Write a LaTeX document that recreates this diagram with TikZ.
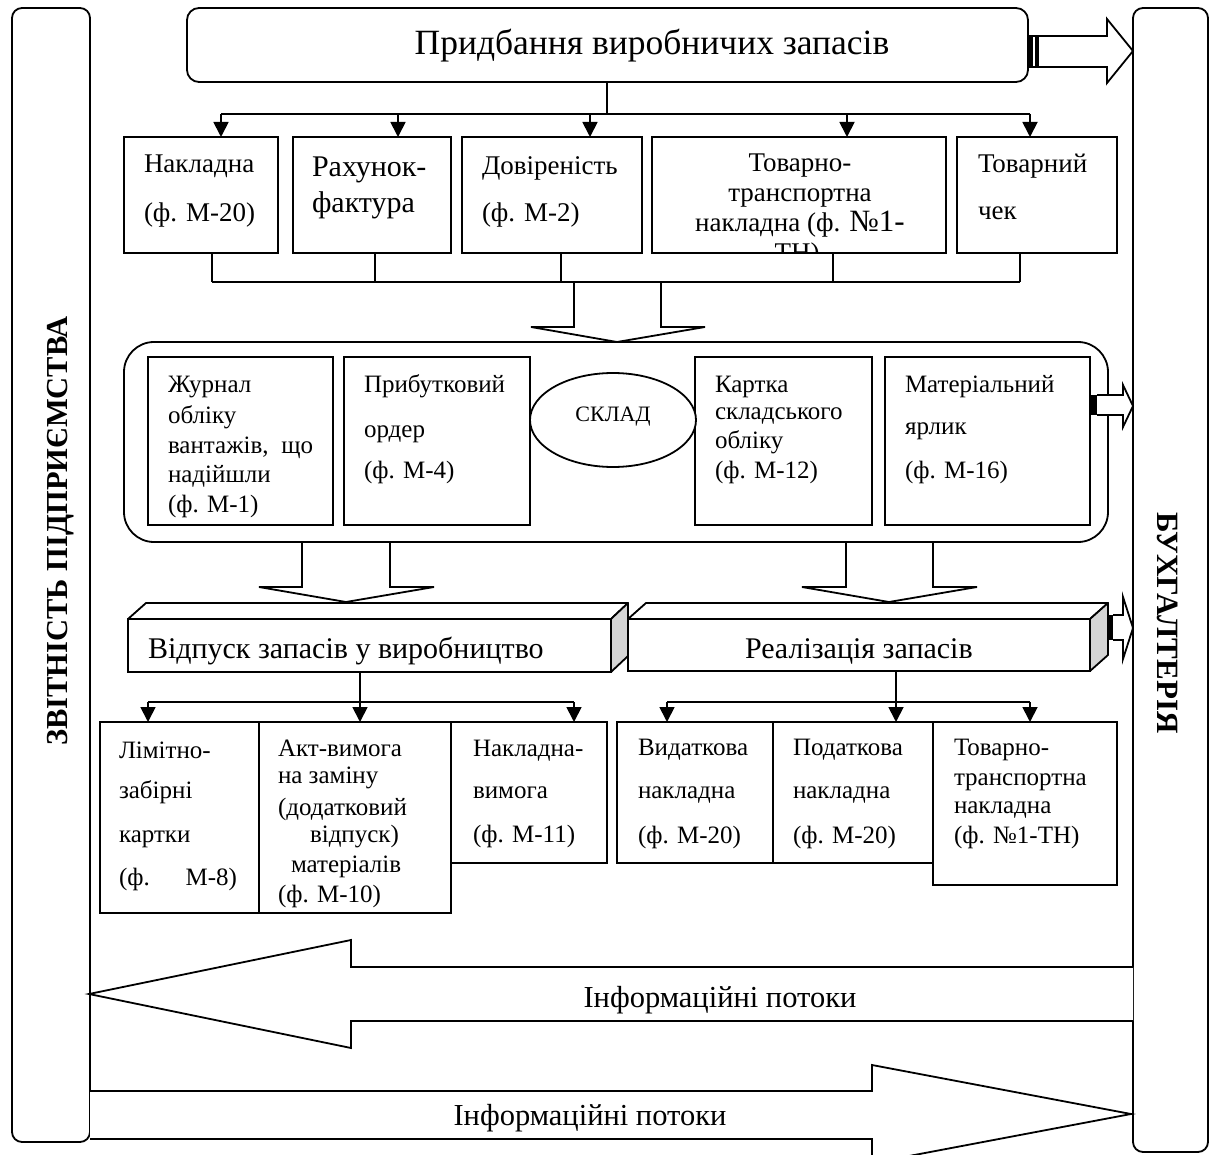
\documentclass[tikz,border=0pt]{standalone}
\usepackage{fontspec}
\setmainfont{Liberation Serif}
\usetikzlibrary{arrows.meta,shapes.geometric,calc}
\newcommand\fT{\fontsize{35.5}{42}\selectfont}
\newcommand\fA{\fontsize{27}{32}\selectfont}
\newcommand\fR{\fontsize{30}{36}\selectfont}
\newcommand\fB{\fontsize{25}{30}\selectfont}
\newcommand\fC{\fontsize{25}{30}\selectfont}
\newcommand\fD{\fontsize{30}{36}\selectfont}
\newcommand\fV{\fontsize{30.5}{36}\selectfont\bfseries}
\newcommand\fW{\fontsize{31}{36}\selectfont\bfseries}
\newcommand\fS{\fontsize{22}{26}\selectfont}
\newcommand\fI{\fontsize{30.5}{36}\selectfont}
\tikzset{
  every node/.style={inner sep=0pt, outer sep=0pt},
  lw/.style={line width=1.8pt},
  bx/.style={draw, lw, fill=white, anchor=north west},
  txt/.style={anchor=base west},
  arr/.style={lw, -{Triangle[width=15pt,length=15pt]}},
  hol/.style={draw, lw, fill=white, line join=miter},
}
\newcommand\mkbox[5]{\node[bx, minimum width={(#4-#2)*1pt}, minimum height={(#5-#3)*1pt}] (#1) at (#2,#3) {};}
\newcommand\tx[5][\fB]{\node[txt, font=#1] (#2) at (#3,#4) {#5};}
\begin{document}
\begin{tikzpicture}[x=1pt,y=-1pt]
\useasboundingbox (0,0) rectangle (1210,1155);
\fill[white] (0,0) rectangle (1210,1155);
% side panels
\node[bx, rounded corners=10pt, minimum width=78pt, minimum height=1134pt] (rep) at (12,8) {};
\node[bx, rounded corners=10pt, minimum width=75pt, minimum height=1144pt] (acc) at (1133,8) {};
\node[font=\fV, rotate=90, anchor=base] (repT) at (67,531) {ЗВІТНІСТЬ ПІДПРИЄМСТВА};
\node[font=\fW, rotate=-90, anchor=base] (accT) at (1157,623) {БУХГАЛТЕРІЯ};
% top
\node[bx, rounded corners=12pt, minimum width=841pt, minimum height=74pt] (top) at (187,8) {};
\node[font=\fT, anchor=base] (topT) at (652,55) {Придбання виробничих запасів};
\fill (1028,36) rectangle (1033,67);
\fill (1035,36) rectangle (1039,67);
\draw[hol] (1039,36) -- (1107,36) -- (1107,19) -- (1133,51) -- (1107,83) -- (1107,67) -- (1039,67);
\draw[lw] (1028,36) -- (1039,36) (1028,67) -- (1039,67);
% row 1
\mkbox{b1}{124}{137}{278}{253}
\mkbox{b2}{293}{137}{451}{253}
\mkbox{b3}{462}{137}{642}{253}
\mkbox{b4}{652}{137}{946}{253}
\mkbox{b5}{957}{137}{1117}{253}
\tx[\fA]{b1a}{144}{173}{Накладна}
\tx[\fA]{b1b}{144}{222}{(ф. М-20)}
\tx[\fR]{b2a}{312}{177}{Рахунок-}
\tx[\fR]{b2b}{312}{213}{фактура}
\tx[\fA]{b3a}{482}{175}{Довіреність}
\tx[\fA]{b3b}{482}{222}{(ф. М-2)}
\node[font=\fA, anchor=base] (b4a) at (800,172) {Товарно-};
\node[font=\fA, anchor=base] (b4b) at (800,202) {транспортна};
\node[font=\fA, anchor=base] (b4c) at (800,232) {накладна (ф. {\fontsize{31}{36}\selectfont №1-}};
\begin{scope}
\clip (652,137) rectangle (946,252);
\node[font=\fA, anchor=base] (b4d) at (797,262) {ТН)};
\end{scope}
\tx[\fA]{b5a}{978}{173}{Товарний}
\tx[\fA]{b5b}{978}{220}{чек}
% distribution
\coordinate (p1) at (221,114);
\coordinate (p2) at (398,114);
\coordinate (p3) at (590,114);
\coordinate (p4) at (847,114);
\coordinate (p5) at (1030,114);
\coordinate (p0) at (607,114);
\draw[lw] (p0 |- top.south) -- (p0);
\draw[lw] (p1) -- (p5);
\foreach \i/\b in {1/b1,2/b2,3/b3,4/b4,5/b5} \draw[arr] (p\i) -- (p\i |- \b.north);
% collect
\coordinate (j1) at (212,282);
\coordinate (j2) at (375,282);
\coordinate (j3) at (561,282);
\coordinate (j4) at (833,282);
\coordinate (j5) at (1020,282);
\foreach \i/\b in {1/b1,2/b2,3/b3,4/b4,5/b5} \draw[lw] (j\i |- \b.south) -- (j\i);
\draw[lw] (j1) -- (j5);
\draw[lw, line join=miter] (574,282) -- (574,327) -- (531,327) -- (617,342) -- (705,327) -- (661,327) -- (661,282);
% middle block
\node[bx, rounded corners=30pt, minimum width=984pt, minimum height=200pt] (mid) at (124,342) {};
\mkbox{m1}{148}{357}{333}{525}
\mkbox{m2}{344}{357}{530}{525}
\mkbox{m3}{695}{357}{872}{525}
\mkbox{m4}{885}{357}{1090}{525}
\node[draw, lw, fill=white, ellipse, minimum width=166pt, minimum height=94pt] (skl) at (613,420) {};
\node[font=\fS, anchor=base] (sklT) at (613,421) {СКЛАД};
\tx{m1a}{168}{392}{Журнал}
\tx{m1b}{168}{423}{обліку}
\tx{m1c}{168}{453}{\makebox[145pt][s]{вантажів, що}}
\tx{m1d}{168}{482}{надійшли}
\tx{m1e}{168}{512}{(ф. М-1)}
\tx{m2a}{364}{392}{Прибутковий}
\tx{m2b}{364}{437}{ордер}
\tx{m2c}{364}{478}{(ф. М-4)}
\tx{m3a}{715}{392}{Картка}
\tx{m3b}{715}{420}{складського}
\tx{m3c}{715}{448}{обліку}
\tx{m3d}{715}{478}{(ф. М-12)}
\tx{m4a}{905}{392}{Матеріальний}
\tx{m4b}{905}{435}{ярлик}
\tx{m4c}{905}{478}{(ф. М-16)}
\fill (1090,395) rectangle (1097,415);
\draw[hol] (1097,395) -- (1123,395) -- (1123,385) -- (1133,406) -- (1123,427) -- (1123,415) -- (1097,415);
% down arrows
\draw[lw, line join=miter] (302,542) -- (302,587) -- (259,587) -- (346,602) -- (434,587) -- (390,587) -- (390,542);
\draw[lw, line join=miter] (846,542) -- (846,587) -- (802,587) -- (889,602) -- (977,587) -- (933,587) -- (933,542);
% 3D boxes
\node[bx, minimum width=483pt, minimum height=53pt] (d3a) at (128,619) {};
\draw[lw, fill=white, line join=round] (128,619) -- (146,603) -- (628,603) -- (611,619) -- cycle;
\draw[lw, fill=black!17, line join=round] (611,619) -- (628,603) -- (628,656) -- (611,672) -- cycle;
\tx[\fD]{d3aT}{148}{658}{Відпуск запасів у виробництво}
\node[bx, minimum width=462pt, minimum height=52pt] (d3b) at (628,619) {};
\draw[lw, fill=white, line join=round] (628,619) -- (646,603) -- (1108,603) -- (1090,619) -- cycle;
\draw[lw, fill=black!17, line join=round] (1090,619) -- (1108,603) -- (1108,655) -- (1090,671) -- cycle;
\tx[\fD]{d3bT}{745}{658}{Реалізація запасів}
\fill (1108,615) rectangle (1113,640);
\draw[hol] (1113,615) -- (1123,615) -- (1123,597) -- (1133,628) -- (1123,659) -- (1123,640) -- (1113,640);
% bottom left group
\mkbox{e1}{100}{722}{259}{913}
\mkbox{e2}{259}{722}{451}{913}
\mkbox{e3}{451}{722}{607}{863}
\coordinate (q1) at (148,702);
\coordinate (q2) at (360,702);
\coordinate (q3) at (574,702);
\draw[lw] (q2 |- d3a.south) -- (q2);
\draw[lw] (q1) -- (q3);
\foreach \i/\b in {1/e1,2/e2,3/e3} \draw[arr] (q\i) -- (q\i |- \b.north);
\tx[\fC]{e1a}{119}{758}{Лімітно-}
\tx[\fC]{e1b}{119}{798}{забірні}
\tx[\fC]{e1c}{119}{842}{картки}
\tx[\fC]{e1d}{119}{885}{\makebox[118pt][s]{(ф. М-8)}}
\tx[\fC]{e2a}{278}{756}{Акт-вимога}
\tx[\fC]{e2b}{278}{783}{на заміну}
\tx[\fC]{e2c}{278}{815}{(додатковий}
\tx[\fC]{e2d}{310}{842}{відпуск)}
\tx[\fC]{e2e}{291}{872}{матеріалів}
\tx[\fC]{e2f}{278}{902}{(ф. М-10)}
\tx[\fC]{e3a}{473}{756}{Накладна-}
\tx[\fC]{e3b}{473}{798}{вимога}
\tx[\fC]{e3c}{473}{842}{(ф. М-11)}
% bottom right group
\mkbox{f1}{617}{722}{773}{863}
\mkbox{f2}{773}{722}{933}{863}
\mkbox{f3}{933}{722}{1117}{885}
\coordinate (r1) at (667,702);
\coordinate (r2) at (896,702);
\coordinate (r3) at (1030,702);
\draw[lw] (r2 |- d3b.south) -- (r2);
\draw[lw] (r1) -- (r3);
\foreach \i/\b in {1/f1,2/f2,3/f3} \draw[arr] (r\i) -- (r\i |- \b.north);
\tx[\fC]{f1a}{638}{755}{Видаткова}
\tx[\fC]{f1b}{638}{798}{накладна}
\tx[\fC]{f1c}{638}{843}{(ф. М-20)}
\tx[\fC]{f2a}{793}{755}{Податкова}
\tx[\fC]{f2b}{793}{798}{накладна}
\tx[\fC]{f2c}{793}{843}{(ф. М-20)}
\tx[\fC]{f3a}{954}{755}{Товарно-}
\tx[\fC]{f3b}{954}{785}{транспортна}
\tx[\fC]{f3c}{954}{813}{накладна}
\tx[\fC]{f3d}{954}{843}{(ф. №1-ТН)}
% information flows
\draw[hol] (1133,967) -- (351,967) -- (351,940) -- (89,994) -- (351,1048) -- (351,1021) -- (1133,1021);
\node[font=\fI, anchor=base] (i1) at (720,1007) {Інформаційні потоки};
\draw[hol] (90,1091) -- (872,1091) -- (872,1065) -- (1131,1114) -- (872,1163) -- (872,1139) -- (90,1139);
\node[font=\fI, anchor=base] (i2) at (590,1125) {Інформаційні потоки};
\end{tikzpicture}
\end{document}
